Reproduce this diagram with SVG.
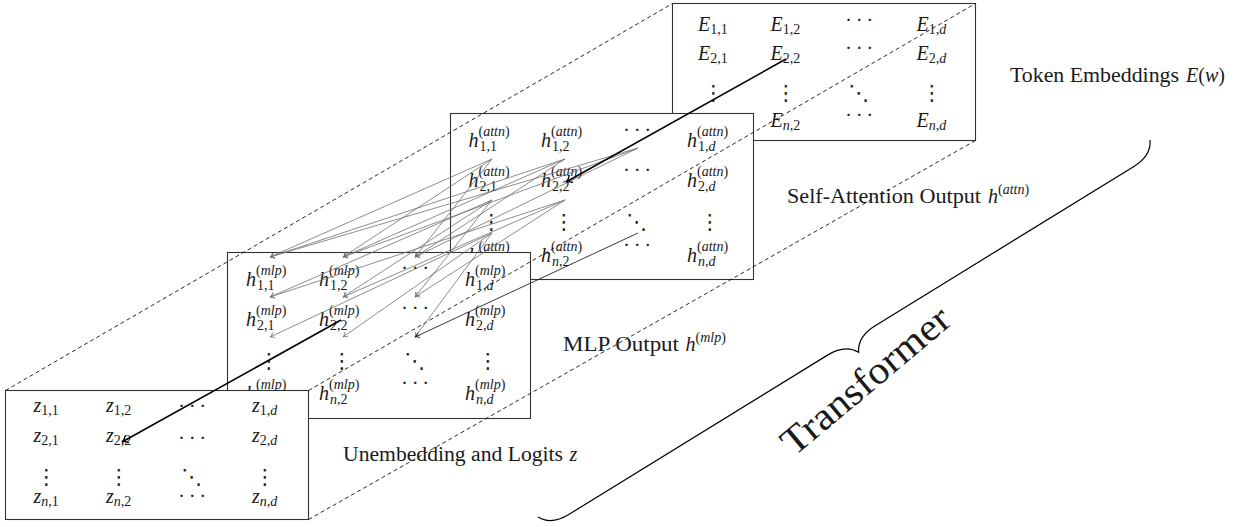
<svg xmlns="http://www.w3.org/2000/svg" width="1244" height="527" viewBox="0 0 1244 527">
<style>
.box{fill:#fff;stroke:#333;stroke-width:1.1}
.t{font-family:'Liberation Serif','Times New Roman',serif;font-size:20px;fill:#1a1a1a}
.i{font-style:italic}
.s{font-size:14px}
.cd{font-family:'Liberation Serif','Times New Roman',serif;font-size:21px;fill:#222;text-anchor:middle;letter-spacing:3.6px}
.vd{font-family:'DejaVu Sans',sans-serif;font-size:21px;fill:#222;text-anchor:middle}
.dash{stroke:#111;stroke-width:0.9;stroke-dasharray:4 3;fill:none}
.thick{stroke:#000;stroke-width:1.6;fill:none;marker-end:url(#tipL)}
.thin{stroke:#707070;stroke-width:0.8;fill:none;marker-end:url(#tipS)}
.thinb{stroke:#222;stroke-width:0.9;fill:none;marker-end:url(#tipB)}
.brace{stroke:#000;stroke-width:1.2;fill:none}
</style>
<defs>
<marker id="tipL" viewBox="-7 -5 8 10" refX="0" refY="0" markerWidth="8" markerHeight="10" markerUnits="userSpaceOnUse" orient="auto"><path d="M-5.5,-3.6 C-3.8,-1.3 -1.6,-0.3 0,0 C-1.6,0.3 -3.8,1.3 -5.5,3.6" fill="none" stroke="#000" stroke-width="1.3" stroke-linecap="round"/></marker>
<marker id="tipS" viewBox="-6 -4 7 8" refX="0" refY="0" markerWidth="7" markerHeight="8" markerUnits="userSpaceOnUse" orient="auto"><path d="M-4,-2.6 C-2.8,-1 -1.2,-0.2 0,0 C-1.2,0.2 -2.8,1 -4,2.6" fill="none" stroke="#707070" stroke-width="0.8" stroke-linecap="round"/></marker>
<marker id="tipB" viewBox="-6 -4 7 8" refX="0" refY="0" markerWidth="7" markerHeight="8" markerUnits="userSpaceOnUse" orient="auto"><path d="M-4,-2.6 C-2.8,-1 -1.2,-0.2 0,0 C-1.2,0.2 -2.8,1 -4,2.6" fill="none" stroke="#222" stroke-width="0.9" stroke-linecap="round"/></marker>
</defs>

<!-- token embedding matrix E(w) -->
<g id="embeddings">
<rect class="box" x="672.5" y="3.5" width="303" height="137"/>
<text class="t" x="698" y="31"><tspan class="i">E</tspan><tspan class="s" dy="3">1,1</tspan></text>
<text class="t" x="770.5" y="31"><tspan class="i">E</tspan><tspan class="s" dy="3">1,2</tspan></text>
<text class="cd" x="861" y="27">···</text>
<text class="t" x="916.5" y="31"><tspan class="i">E</tspan><tspan class="s" dy="3">1,<tspan class="i">d</tspan></tspan></text>
<text class="t" x="698" y="60"><tspan class="i">E</tspan><tspan class="s" dy="3">2,1</tspan></text>
<text class="t" x="770.5" y="60"><tspan class="i">E</tspan><tspan class="s" dy="3">2,2</tspan></text>
<text class="cd" x="861" y="55">···</text>
<text class="t" x="916.5" y="60"><tspan class="i">E</tspan><tspan class="s" dy="3">2,<tspan class="i">d</tspan></tspan></text>
<text class="vd" x="713.5" y="99.7">⋮</text>
<text class="vd" x="786" y="99.7">⋮</text>
<text class="vd" x="859" y="99.7">⋱</text>
<text class="vd" x="932" y="99.7">⋮</text>
<text class="t" x="698" y="127"><tspan class="i">E</tspan><tspan class="s" dy="3"><tspan class="i">n</tspan>,1</tspan></text>
<text class="t" x="770.5" y="127"><tspan class="i">E</tspan><tspan class="s" dy="3"><tspan class="i">n</tspan>,2</tspan></text>
<text class="cd" x="861" y="122">···</text>
<text class="t" x="916.5" y="127"><tspan class="i">E</tspan><tspan class="s" dy="3"><tspan class="i">n</tspan>,<tspan class="i">d</tspan></tspan></text>
</g>

<!-- self-attention output matrix -->
<g id="attention">
<rect class="box" x="450.5" y="113.5" width="303" height="166"/>
<text class="t" x="468.5" y="147"><tspan class="i">h</tspan><tspan class="s" dy="-11">(<tspan class="i">attn</tspan>)</tspan><tspan class="s" x="479.5" dy="15">1,1</tspan></text>
<text class="t" x="541" y="147"><tspan class="i">h</tspan><tspan class="s" dy="-11">(<tspan class="i">attn</tspan>)</tspan><tspan class="s" x="552" dy="15">1,2</tspan></text>
<text class="cd" x="639" y="137">···</text>
<text class="t" x="687" y="147"><tspan class="i">h</tspan><tspan class="s" dy="-11">(<tspan class="i">attn</tspan>)</tspan><tspan class="s" x="698" dy="15">1,<tspan class="i">d</tspan></tspan></text>
<text class="t" x="468.5" y="187"><tspan class="i">h</tspan><tspan class="s" dy="-11">(<tspan class="i">attn</tspan>)</tspan><tspan class="s" x="479.5" dy="15">2,1</tspan></text>
<text class="t" x="541" y="187"><tspan class="i">h</tspan><tspan class="s" dy="-11">(<tspan class="i">attn</tspan>)</tspan><tspan class="s" x="552" dy="15">2,2</tspan></text>
<text class="cd" x="639" y="177">···</text>
<text class="t" x="687" y="187"><tspan class="i">h</tspan><tspan class="s" dy="-11">(<tspan class="i">attn</tspan>)</tspan><tspan class="s" x="698" dy="15">2,<tspan class="i">d</tspan></tspan></text>
<text class="vd" x="491.5" y="228.7">⋮</text>
<text class="vd" x="564" y="228.7">⋮</text>
<text class="vd" x="637" y="228.7">⋱</text>
<text class="vd" x="710" y="228.7">⋮</text>
<text class="t" x="468.5" y="262"><tspan class="i">h</tspan><tspan class="s" dy="-11">(<tspan class="i">attn</tspan>)</tspan><tspan class="s" x="479.5" dy="15"><tspan class="i">n</tspan>,1</tspan></text>
<text class="t" x="541" y="262"><tspan class="i">h</tspan><tspan class="s" dy="-11">(<tspan class="i">attn</tspan>)</tspan><tspan class="s" x="552" dy="15"><tspan class="i">n</tspan>,2</tspan></text>
<text class="cd" x="639" y="252">···</text>
<text class="t" x="687" y="262"><tspan class="i">h</tspan><tspan class="s" dy="-11">(<tspan class="i">attn</tspan>)</tspan><tspan class="s" x="698" dy="15"><tspan class="i">n</tspan>,<tspan class="i">d</tspan></tspan></text>
</g>

<!-- MLP output matrix -->
<g id="mlp">
<rect class="box" x="227.5" y="252.5" width="303" height="166"/>
<text class="t" x="246" y="286"><tspan class="i">h</tspan><tspan class="s" dy="-11">(<tspan class="i">mlp</tspan>)</tspan><tspan class="s" x="257" dy="15">1,1</tspan></text>
<text class="t" x="319" y="286"><tspan class="i">h</tspan><tspan class="s" dy="-11">(<tspan class="i">mlp</tspan>)</tspan><tspan class="s" x="330" dy="15">1,2</tspan></text>
<text class="cd" x="417" y="275">···</text>
<text class="t" x="465" y="286"><tspan class="i">h</tspan><tspan class="s" dy="-11">(<tspan class="i">mlp</tspan>)</tspan><tspan class="s" x="476" dy="15">1,<tspan class="i">d</tspan></tspan></text>
<text class="t" x="246" y="326"><tspan class="i">h</tspan><tspan class="s" dy="-11">(<tspan class="i">mlp</tspan>)</tspan><tspan class="s" x="257" dy="15">2,1</tspan></text>
<text class="t" x="319" y="326"><tspan class="i">h</tspan><tspan class="s" dy="-11">(<tspan class="i">mlp</tspan>)</tspan><tspan class="s" x="330" dy="15">2,2</tspan></text>
<text class="cd" x="417" y="315">···</text>
<text class="t" x="465" y="326"><tspan class="i">h</tspan><tspan class="s" dy="-11">(<tspan class="i">mlp</tspan>)</tspan><tspan class="s" x="476" dy="15">2,<tspan class="i">d</tspan></tspan></text>
<text class="vd" x="269" y="367.7">⋮</text>
<text class="vd" x="342" y="367.7">⋮</text>
<text class="vd" x="415" y="367.7">⋱</text>
<text class="vd" x="488" y="367.7">⋮</text>
<text class="t" x="246" y="400"><tspan class="i">h</tspan><tspan class="s" dy="-11">(<tspan class="i">mlp</tspan>)</tspan><tspan class="s" x="257" dy="15"><tspan class="i">n</tspan>,1</tspan></text>
<text class="t" x="319" y="400"><tspan class="i">h</tspan><tspan class="s" dy="-11">(<tspan class="i">mlp</tspan>)</tspan><tspan class="s" x="330" dy="15"><tspan class="i">n</tspan>,2</tspan></text>
<text class="cd" x="417" y="390">···</text>
<text class="t" x="465" y="400"><tspan class="i">h</tspan><tspan class="s" dy="-11">(<tspan class="i">mlp</tspan>)</tspan><tspan class="s" x="476" dy="15"><tspan class="i">n</tspan>,<tspan class="i">d</tspan></tspan></text>
</g>

<!-- unembedding / logits matrix -->
<g id="logits">
<rect class="box" x="5.5" y="390.5" width="303" height="129"/>
<text class="t" x="33.5" y="412"><tspan class="i">z</tspan><tspan class="s" dy="3">1,1</tspan></text>
<text class="t" x="106" y="412"><tspan class="i">z</tspan><tspan class="s" dy="3">1,2</tspan></text>
<text class="cd" x="194" y="413">···</text>
<text class="t" x="252" y="412"><tspan class="i">z</tspan><tspan class="s" dy="3">1,<tspan class="i">d</tspan></tspan></text>
<text class="t" x="33.5" y="442"><tspan class="i">z</tspan><tspan class="s" dy="3">2,1</tspan></text>
<text class="t" x="106" y="442"><tspan class="i">z</tspan><tspan class="s" dy="3">2,2</tspan></text>
<text class="cd" x="194" y="445">···</text>
<text class="t" x="252" y="442"><tspan class="i">z</tspan><tspan class="s" dy="3">2,<tspan class="i">d</tspan></tspan></text>
<text class="vd" x="46.5" y="483.7">⋮</text>
<text class="vd" x="119" y="483.7">⋮</text>
<text class="vd" x="192" y="483.7">⋱</text>
<text class="vd" x="265" y="483.7">⋮</text>
<text class="t" x="33.5" y="503"><tspan class="i">z</tspan><tspan class="s" dy="3"><tspan class="i">n</tspan>,1</tspan></text>
<text class="t" x="106" y="503"><tspan class="i">z</tspan><tspan class="s" dy="3"><tspan class="i">n</tspan>,2</tspan></text>
<text class="cd" x="194" y="503">···</text>
<text class="t" x="252" y="503"><tspan class="i">z</tspan><tspan class="s" dy="3"><tspan class="i">n</tspan>,<tspan class="i">d</tspan></tspan></text>
</g>

<!-- dashed edges of the layer stack -->
<g id="stack-edges">
<line class="dash" x1="5.5" y1="390.5" x2="672.5" y2="3.5"/>
<line class="dash" x1="308.5" y1="390.5" x2="975.5" y2="3.5"/>
<line class="dash" x1="308.5" y1="519.5" x2="975.5" y2="140.5"/>
</g>

<!-- arrows between matrix entries -->
<g id="connectors">
<line class="thin" x1="492" y1="159" x2="270" y2="257"/>
<line class="thin" x1="492" y1="159" x2="343" y2="257"/>
<line class="thin" x1="492" y1="159" x2="415" y2="257"/>
<line class="thin" x1="565" y1="159" x2="270" y2="257"/>
<line class="thin" x1="565" y1="159" x2="343" y2="257"/>
<line class="thin" x1="565" y1="159" x2="415" y2="257"/>
<line class="thin" x1="638" y1="148" x2="270" y2="257"/>
<line class="thin" x1="638" y1="148" x2="343" y2="257"/>
<line class="thin" x1="638" y1="148" x2="415" y2="257"/>
<line class="thin" x1="492" y1="200" x2="270" y2="297"/>
<line class="thin" x1="492" y1="200" x2="343" y2="297"/>
<line class="thin" x1="492" y1="200" x2="415" y2="297"/>
<line class="thin" x1="565" y1="200" x2="270" y2="297"/>
<line class="thin" x1="565" y1="200" x2="343" y2="297"/>
<line class="thin" x1="565" y1="200" x2="415" y2="297"/>
<line class="thin" x1="492" y1="233" x2="270" y2="337"/>
<line class="thin" x1="492" y1="233" x2="343" y2="337"/>
<line class="thin" x1="492" y1="233" x2="415" y2="337"/>
<line class="thinb" x1="638" y1="233" x2="415" y2="337"/>
<line class="thick" x1="786" y1="59" x2="566" y2="182"/>
<line class="thick" x1="341" y1="320" x2="122" y2="442"/>
</g>

<!-- layer captions -->
<g id="label-embeddings">
<text class="t" x="1010" y="82" textLength="169" lengthAdjust="spacingAndGlyphs">Token Embeddings</text>
<text class="t" x="1186" y="82"><tspan class="i">E</tspan>(<tspan class="i">w</tspan>)</text>
</g>
<g id="label-attention">
<text class="t" x="787" y="203" textLength="194" lengthAdjust="spacingAndGlyphs">Self-Attention Output</text>
<text class="t" x="988" y="203"><tspan class="i">h</tspan><tspan class="s" dy="-9">(<tspan class="i">attn</tspan>)</tspan></text>
</g>
<g id="label-mlp">
<text class="t" x="563" y="351" textLength="116" lengthAdjust="spacingAndGlyphs">MLP Output</text>
<text class="t" x="685.5" y="351"><tspan class="i">h</tspan><tspan class="s" dy="-9">(<tspan class="i">mlp</tspan>)</tspan></text>
</g>
<g id="label-logits">
<text class="t" x="343" y="461" textLength="220" lengthAdjust="spacingAndGlyphs">Unembedding and Logits</text>
<text class="t" x="569.5" y="461"><tspan class="i">z</tspan></text>
</g>

<!-- brace spanning the transformer layers -->
<g id="transformer">
<path class="brace" transform="translate(538,517) rotate(-31.63)" d="M0,0 C4.2,8.4 14,14 28,14 L331.4,14 C345.4,14 355.2,19.6 359.4,28 C363.6,19.6 373.4,14 387.4,14 L690.8,14 C704.8,14 714.6,8.4 718.8,0"/>
<text class="t" transform="translate(866,381) rotate(-40)" x="0" y="12" text-anchor="middle" style="font-size:39px" textLength="208" lengthAdjust="spacingAndGlyphs">Transformer</text>
</g>
</svg>
